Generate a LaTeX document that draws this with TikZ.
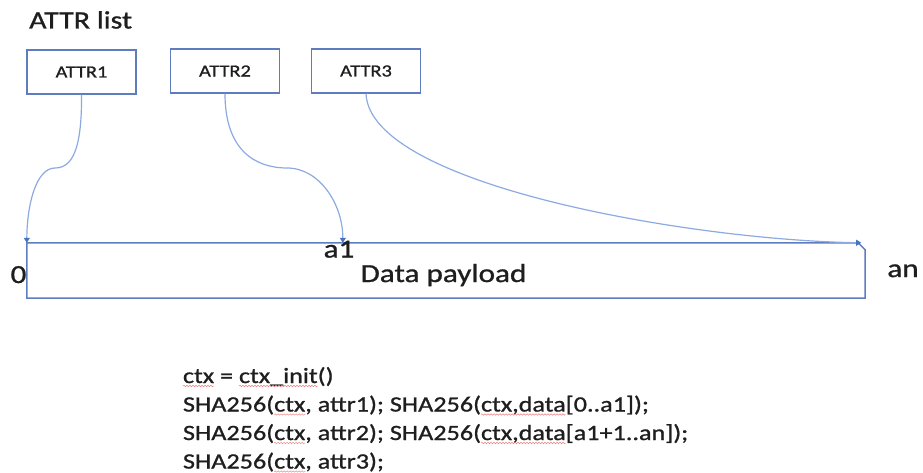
\documentclass[tikz,border=0pt]{standalone}
\usepackage{fontspec}
\setmainfont[FakeStretch=1.2,FakeBold=1]{Carlito}
\usetikzlibrary{arrows.meta,decorations.pathmorphing}

\definecolor{boxblue}{RGB}{95,125,190}
\definecolor{linkblue}{RGB}{140,170,225}
\definecolor{tipblue}{RGB}{68,114,196}
\definecolor{spellred}{RGB}{236,130,130}
\definecolor{ink}{RGB}{30,30,30}

\tikzset{
  attrbox/.style={draw=boxblue, line width=1.5pt, minimum width=109pt, minimum height=44pt,
    inner sep=0pt, font=\fontsize{17}{19}\selectfont, text=ink},
  link/.style={draw=linkblue, line width=1.2pt,
    -{Triangle[width=6pt,length=5pt,fill=tipblue,color=tipblue]}},
  lbl/.style={font=\fontsize{26}{30}\selectfont, text=ink, inner sep=0pt},
  codeline/.style={font=\fontsize{21.8}{28}\selectfont, text=ink, inner sep=0pt,
    outer sep=0pt, anchor=base west},
  spellwave/.style={draw=spellred, line width=0.5pt, decorate,
    decoration={snake, amplitude=0.7pt, segment length=3pt}},
}

\begin{document}
\begin{tikzpicture}[x=1pt,y=-1pt]
\useasboundingbox (0,0) rectangle (923,473);

% attribute list
\node[font=\fontsize{25}{28}\selectfont, text=ink, inner sep=0pt, anchor=base west] (title) at (29,28.5) {ATTR list};
\node[attrbox] (attr1) at (81.5,72) {ATTR1};
\node[attrbox] (attr2) at (225,71) {ATTR2};
\node[attrbox] (attr3) at (366,71) {ATTR3};

% data payload
\node[minimum width=838pt, minimum height=55pt, inner sep=0pt] (payload) at (446,270.5) {};
\draw[boxblue, line width=1.5pt]
  (payload.north west) -- ([xshift=-7pt]payload.north east) -- ([yshift=-7pt]payload.north east)
  -- (payload.south east) -- (payload.south west) -- cycle;
\node[lbl, anchor=base] (dp) at (443.5,282) {Data payload};
\node[lbl, anchor=base] (zero) at (18.5,283) {0};
\node[lbl, anchor=base] (aone) at (339,257.5) {a1};
\node[lbl, anchor=base] (an) at (903,277) {an};

\coordinate (p0) at (payload.north west);
\coordinate (p1) at ([xshift=316pt]payload.north west);
\coordinate (pn) at ([xshift=-4pt]payload.north east);

% offsets of each attribute into the payload
\draw[link] (attr1.south) .. controls (82,150) and (72,168) .. (55,168)
  .. controls (36,168) and (27,205) .. (p0);
\draw[link] (attr2.south) .. controls (225,150) and (255,168) .. (287,168)
  .. controls (320,168) and (343,205) .. (p1);
\draw[link] (attr3.south) .. controls (370,185) and (690,240) .. (pn);

% hashing sequence, split into pieces so the flagged words can be underlined
\node[codeline] (c1a) at (183,383) {ctx};
\node[codeline] (c1b) at (c1a.base east) {\ =\ \null};
\node[codeline] (c1c) at (c1b.base east) {ctx\_init};
\node[codeline] (c1d) at (c1c.base east) {()};

\node[codeline] (c2a) at (183,411.5) {SHA256(};
\node[codeline] (c2b) at (c2a.base east) {ctx};
\node[codeline] (c2c) at (c2b.base east) {, attr1); SHA256(};
\node[codeline] (c2d) at (c2c.base east) {ctx,data};
\node[codeline] (c2e) at (c2d.base east) {[0..a1]);};

\node[codeline] (c3a) at (183,440) {SHA256(};
\node[codeline] (c3b) at (c3a.base east) {ctx};
\node[codeline] (c3c) at (c3b.base east) {, attr2); SHA256(};
\node[codeline] (c3d) at (c3c.base east) {ctx,data};
\node[codeline] (c3e) at (c3d.base east) {[a1+1..an]);};

\node[codeline] (c4a) at (183,468.5) {SHA256(};
\node[codeline] (c4b) at (c4a.base east) {ctx};
\node[codeline] (c4c) at (c4b.base east) {, attr3);};

% spell-check squiggles
\foreach \w in {c1a,c1c,c2b,c2d,c3b,c3d,c4b}
  \draw[spellwave] ([yshift=-3pt]\w.base west) -- ([yshift=-3pt]\w.base east);
\end{tikzpicture}
\end{document}
